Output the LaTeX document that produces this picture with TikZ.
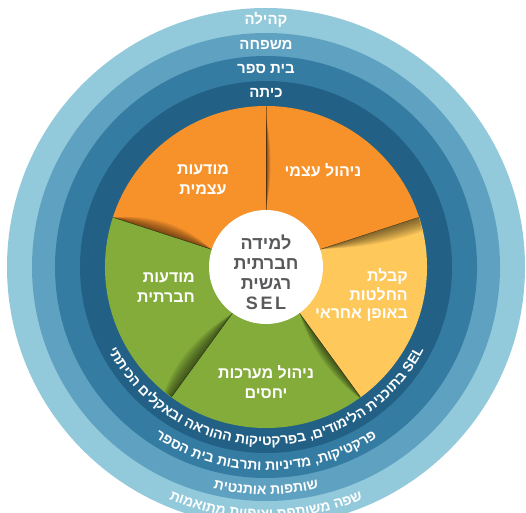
\documentclass[tikz,border=0pt]{standalone}
\usepackage{fontspec}
\setmainfont{Liberation Sans}
\newfontfamily\hebfont[Script=Hebrew]{Liberation Sans}
\usetikzlibrary{decorations.text}
\TeXXeTstate=1
\newcommand{\myR}[1]{\beginR #1\endR}
\definecolor{ringA}{HTML}{93CADB}
\definecolor{ringB}{HTML}{5FA1C1}
\definecolor{ringC}{HTML}{357CA3}
\definecolor{ringD}{HTML}{226185}
\definecolor{sorange}{HTML}{F7922B}
\definecolor{syellow}{HTML}{FEC85A}
\definecolor{sgreen}{HTML}{84AC3A}
\definecolor{cgray}{HTML}{58595B}
\tikzset{
  ringlabel/.style={text=white, font=\hebfont\bfseries\fontsize{15}{15}\selectfont, inner sep=0pt},
  slicelabel/.style={text=white, font=\hebfont\bfseries\fontsize{16}{20}\selectfont, inner sep=0pt},
  centerlabel/.style={text=cgray, font=\hebfont\bfseries\fontsize{18}{20}\selectfont, inner sep=0pt, align=center},
  shadowlayer/.style={fill=black, opacity=0.075},
  seam/.style={draw=black, opacity=0.4, line width=0.5pt}
}
\begin{document}
\begin{tikzpicture}[x=1pt,y=1pt]
\useasboundingbox (-266,-245) rectangle (260,267);
\fill[white] (-266,-245) rectangle (260,267);
% rings
\fill[ringA] (0,0) circle[radius=259];
\fill[ringB] (0,0) circle[radius=234];
\fill[ringC] (0,0) circle[radius=211];
\fill[ringD] (0,0) circle[radius=186];
% slices
\fill[sorange] (0,0) -- (90:161) arc[start angle=90,end angle=162,radius=161] -- cycle;
\fill[sorange] (0,0) -- (18:161) arc[start angle=18,end angle=90,radius=161] -- cycle;
\fill[syellow] (0,0) -- (-54:161) arc[start angle=-54,end angle=18,radius=161] -- cycle;
\fill[sgreen] (0,0) -- (-126:161) arc[start angle=-126,end angle=-54,radius=161] -- cycle;
\fill[sgreen] (0,0) -- (162:161) arc[start angle=162,end angle=234,radius=161] -- cycle;
% shadows (on the clockwise side of each seam)
\begin{scope}
\clip (0,0) circle[radius=160.5];
\foreach \ang/\ra/\rb/\rc/\rd/\h/\e in {90/60/85/120/150/6/0, 18/58/110/140/175/15/14, -54/58/90/130/165/12/0, -126/58/100/140/175/18/4, 162/58/90/125/160/15/0}{
  \begin{scope}[rotate=\ang]
    \foreach \k in {1,...,8}{
      \fill[shadowlayer] (\ra,0) .. controls (\rb,-\h*\k/8) and (\rc,-\h*\k/8) .. (\rd,-\e*\k/8) -- (\rd,0) -- cycle;
    }
    \draw[seam] (0,0) -- (161,0);
  \end{scope}
}
\end{scope}
% centre
\fill[white] (0,0) circle[radius=57];
\node[centerlabel] (core) at (0,-5) {\myR{למידה}\\\myR{חברתית}\\\myR{רגשית}\\{\addfontfeature{LetterSpace=14}SEL}};
% slice labels
\node[slicelabel] (selfmgmt) at (57,97) {\myR{ניהול עצמי}};
\node[slicelabel, align=center] (selfaware) at (-63,87) {\myR{מודעות}\\\myR{עצמית}};
\node[slicelabel, align=right, anchor=east] (socaware) at (-71,-20.5) {\myR{מודעות}\\\myR{חברתית}};
\node[slicelabel, align=right, anchor=east, font=\hebfont\bfseries\fontsize{16}{18.3}\selectfont] (decide) at (142,-28) {\myR{קבלת}\\\myR{החלטות}\\\myR{באופן אחראי}};
\node[slicelabel, align=center] (relate) at (0,-115.5) {\myR{ניהול מערכות}\\\myR{יחסים}};
% ring labels, top
\node[ringlabel] (community) at (0,247) {\myR{קהילה}};
\node[ringlabel] (family) at (0,222) {\myR{משפחה}};
\node[ringlabel] (school) at (0,198) {\myR{בית ספר}};
\node[ringlabel] (classroom) at (0,174) {\myR{כיתה}};
% ring labels, bottom (curved; characters in visual order)
\path[decorate, decoration={text along path, text align=center,
  text={|\hebfont\bfseries\fontsize{14}{14}\selectfont\color{white}|יתתיכה םילקאבו הארוהה תוקיטקרפב ,םידומילה תינכותב SEL}}]
  (-178:178.5) arc[start angle=-178, end angle=-2, radius=178.5];
\path[decorate, decoration={text along path, text align=center,
  text={|\hebfont\bfseries\fontsize{14}{14}\selectfont\color{white}|רפסה תיב תוברתו תוינידמ ,תוקיטקרפ}}]
  (-178:203.5) arc[start angle=-178, end angle=-2, radius=203.5];
\path[decorate, decoration={text along path, text align=center,
  text={|\hebfont\bfseries\fontsize{14}{14}\selectfont\color{white}|תיטנתוא תופתוש}}]
  (-178:227.5) arc[start angle=-178, end angle=-2, radius=227.5];
\path[decorate, decoration={text along path, text align=center,
  text={|\hebfont\bfseries\fontsize{14}{14}\selectfont\color{white}|תומאותמ תויפיצו תפתושמ הפש}}]
  (-178:251.5) arc[start angle=-178, end angle=-2, radius=251.5];
\end{tikzpicture}
\end{document}
